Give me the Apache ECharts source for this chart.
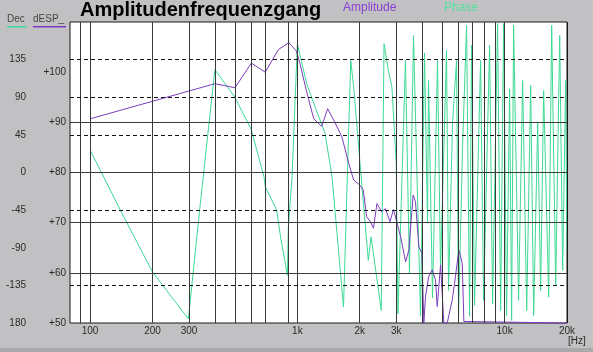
<!DOCTYPE html>
<html>
<head>
<meta charset="utf-8">
<script src="https://cdn.jsdelivr.net/npm/echarts@6/dist/echarts.min.js"></script>
<style>
html,body{margin:0;padding:0;background:#c1c1c4;}
#chart{width:593px;height:352px;}
</style>
</head>
<body>
<div id="chart"></div>
<script>
// Phase (Dec) curve, Hz / degrees
var phaseFreq = [100,140,200,298,337,400,500,600,690,700,
    795,830,895,905,943,1000,1110,1245,1360,1470,
    1670,1810,1870,2000,2200,2270,2540,2620,2750,2860,
    3000,3058,3324,3475,3634,3929,4107,4247,4295,4489,
    4746,4907,5246,5364,5608,5863,5995,6268,6553,6774,
    6927,7162,7658,7917,8463,8750,9250,9566,9890,10220,
    10570,10810,11050,11680,12220,12780,13360,13810,14440,14925,
    15430,16315,16870,17640,18440,19060,19710,20000];
var phaseDeg = [27,-45,-119,-175,-47,123,90,51,-5,-17,
    -45,-77,-123,-65,-5,154,106,72,47,-5,
    -161,134,102,15,-105,-77,-165,154,122,102,
    11,-169,134,-120,164,-172,143,-60,110,-150,
    134,-117,146,-141,60,134,-172,30,176,-172,
    152,-159,134,-153,152,-157,178,-165,178,-171,
    100,-177,176,-153,110,-165,104,-171,60,-141,
    98,-149,176,-135,164,-117,110,-93];

// Amplitude (dESP_) curve, Hz / dB
var ampFreq = [100,400,500,600,700,810,910,990,1030,1110,
    1200,1310,1400,1500,1640,1770,1870,2000,2080,2160,
    2250,2330,2420,2550,2660,2800,2910,3150,3330,3450,
    3620,3715,3855,3990,4075,4154,4300,4474,4641,4730,
    4910,5090,5287,5590,5735,6015,6247,6360,20000];
var ampDb = [90.7,97.7,96.9,101.8,100,104.5,105.9,104.2,101.7,96,
    90.7,89.2,92.7,90.4,87.1,81.8,78.5,77.5,76.5,71.2,
    70.2,68.9,73.8,72.2,72.8,70.2,72.6,67.2,62.2,64.5,
    75.5,74.2,65.2,63.9,50,55.3,59.2,60.6,58.6,53.3,
    61.6,50,50,54.6,57.9,64.5,61.9,50.3,50];

// grid lines and tick labels
var gridFreqs = [90,100,200,300,400,500,600,700,900,1000,2000,3000,4000,5000,6000,7000,8000,9000,10000,20000];
var xLabelFreqs = [100,200,300,1000,2000,3000,10000,20000];
var xLabelTexts = ['100','200','300','1k','2k','3k','10k','20k'];
var phaseDashed = [135,90,45,0,-45,-135];
var ampSolid = [90,80,70,60];

function zip(a,b){
    var out=[];
    for(var i=0;i<a.length;i++){ out.push([a[i],b[i]]); }
    return out;
}

var lblFont = {color:'#2a2a2a', fontSize:10, fontFamily:'Liberation Sans'};

// vertical grid lines, with the frequency label under the labelled ones
var vLines = gridFreqs.map(function(f){
    var item = {xAxis:f};
    var k = xLabelFreqs.indexOf(f);
    if(k>=0){
        item.label = {show:true, position:'start', distance:3, formatter:xLabelTexts[k],
            color:'#2a2a2a', fontSize:10, fontFamily:'Liberation Sans'};
    }
    if(f===20000){ item.lineStyle = {color:'#1a1a1a'}; }
    return item;
});

var chart = echarts.init(document.getElementById('chart'));
var option = {
    backgroundColor:'#c1c1c4',
    animation:false,
    grid:{left:70, right:26, top:22, bottom:29, show:true, backgroundColor:'#fff', borderColor:'#1a1a1a', borderWidth:1},
    xAxis:{
        type:'log', logBase:10, min:80, max:20000,
        axisLine:{show:false}, axisTick:{show:false}, axisLabel:{show:false}, splitLine:{show:false}
    },
    yAxis:[{
        type:'value', min:-180, max:180, interval:45, position:'left',
        axisLine:{show:false}, axisTick:{show:false}, splitLine:{show:false},
        axisLabel:Object.assign({margin:44, formatter:function(v){
            if(v===180) return '';
            if(v===-180) return '180';
            return v;
        }}, lblFont)
    },{
        type:'value', min:50, max:110, interval:10, position:'left',
        axisLine:{show:false}, axisTick:{show:false}, splitLine:{show:false},
        axisLabel:Object.assign({margin:4, formatter:function(v){
            if(v===110) return '';
            return '+' + v;
        }}, lblFont)
    }],
    series:[{
        // grid lines only
        type:'line', data:[], z:1, silent:true,
        markLine:{symbol:'none', silent:true, animation:false, label:{show:false},
            lineStyle:{color:'#3a3a3a', width:1, type:'solid'},
            data:vLines}
    },{
        type:'line', data:[], z:1, yAxisIndex:0, silent:true,
        markLine:{symbol:'none', silent:true, animation:false, label:{show:false},
            lineStyle:{color:'#111', width:1, type:[4,3]},
            data:phaseDashed.map(function(v){ return {yAxis:v}; })}
    },{
        type:'line', data:[], z:1, yAxisIndex:1, silent:true,
        markLine:{symbol:'none', silent:true, animation:false, label:{show:false},
            lineStyle:{color:'#3a3a3a', width:1, type:'solid'},
            data:ampSolid.map(function(v){ return {yAxis:v}; })}
    },{
        name:'Phase', type:'line', yAxisIndex:0, z:3,
        showSymbol:false, clip:true,
        lineStyle:{color:'#3ed995', width:1},
        data:zip(phaseFreq, phaseDeg)
    },{
        name:'Amplitude', type:'line', yAxisIndex:1, z:4,
        showSymbol:false, clip:false,
        lineStyle:{color:'#7d3cbf', width:1},
        data:zip(ampFreq, ampDb)
    }],
    graphic:[
        {type:'text', left:80, top:0, style:{text:'Amplitudenfrequenzgang', font:'bold 20px "Liberation Sans"', fill:'#000'}},
        {type:'text', left:343, top:2, style:{text:'Amplitude', font:'12px "Liberation Sans"', fill:'#8a3fd6', letterSpacing:2}},
        {type:'text', left:444, top:2, style:{text:'Phase', font:'12px "Liberation Sans"', fill:'#55e09d', letterSpacing:2}},
        {type:'text', left:7, top:14, style:{text:'Dec', font:'10px "Liberation Sans"', fill:'#444'}},
        {type:'text', left:33, top:14, style:{text:'dESP_', font:'10px "Liberation Sans"', fill:'#444'}},
        {type:'rect', shape:{x:7, y:26, width:20, height:1.5}, style:{fill:'#42d89c'}},
        {type:'rect', shape:{x:33, y:26, width:33, height:1.5}, style:{fill:'#7d3cbf'}},
        {type:'text', left:568, top:336, style:{text:'[Hz]', font:'10px "Liberation Sans"', fill:'#2a2a2a'}},
        {type:'rect', shape:{x:0, y:348, width:593, height:4}, style:{fill:'#a9a9ab'}}
    ]
};
chart.setOption(option);
</script>
</body>
</html>
